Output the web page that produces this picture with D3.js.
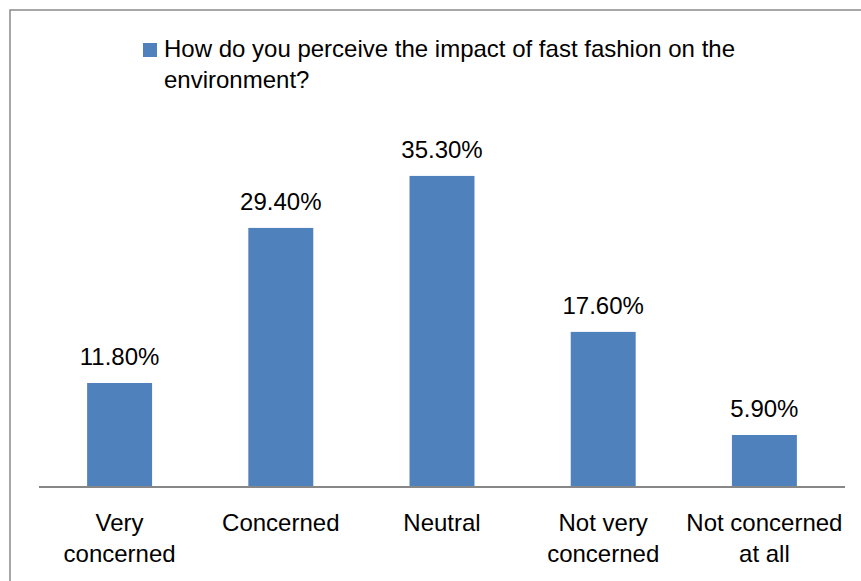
<!DOCTYPE html>
<html>
<head>
<meta charset="utf-8">
<script src="https://cdn.jsdelivr.net/npm/d3@7"></script>
<style>
  body { margin: 0; background: #fff; }
  text { font-family: "Liberation Sans", Arial, sans-serif; fill: #000; }
</style>
</head>
<body>
<div id="chart"></div>
<script>
// data
var seriesName = "How do you perceive the impact of fast fashion on the environment?";
var categories = ["Very concerned", "Concerned", "Neutral", "Not very concerned", "Not concerned at all"];
var values = [11.8, 29.4, 35.3, 17.6, 5.9];
var valueLabels = ["11.80%", "29.40%", "35.30%", "17.60%", "5.90%"];

var width = 861;
var height = 581;
var baseY = 487;
var fontSize = 24;

var svg = d3.select("#chart")
    .append("svg")
    .attr("width", width)
    .attr("height", height);

// chart border (right/bottom edges run off the picture)
svg.append("rect")
    .attr("x", 10)
    .attr("y", 10)
    .attr("width", 900)
    .attr("height", 620)
    .attr("fill", "none")
    .attr("stroke", "#8a8a8a")
    .attr("stroke-width", 1.5);

var xScale = d3.scaleBand()
    .domain(categories)
    .range([39, 845])
    .paddingInner(0.597)
    .paddingOuter(0.2985);

var yScale = d3.scaleLinear()
    .domain([0, 40])
    .range([baseY, baseY - 352.5]);

// wrap text into lines that fit maxWidth
function wrap(textSel, maxWidth, lineHeight) {
  textSel.each(function() {
    var t = d3.select(this);
    var words = t.text().split(/\s+/);
    var x = t.attr("x");
    var y = t.attr("y");
    t.text(null);
    var line = [];
    var tspan = t.append("tspan").attr("x", x).attr("y", y);
    var lineNo = 0;
    words.forEach(function(w) {
      line.push(w);
      tspan.text(line.join(" "));
      if (tspan.node().getComputedTextLength() > maxWidth && line.length > 1) {
        line.pop();
        tspan.text(line.join(" "));
        line = [w];
        lineNo++;
        tspan = t.append("tspan")
            .attr("x", x)
            .attr("y", +y + lineNo * lineHeight)
            .text(w);
      }
    });
  });
}

// bars
svg.selectAll(".bar")
    .data(values)
    .enter()
    .append("rect")
    .attr("class", "bar")
    .attr("x", function(d, i) { return xScale(categories[i]); })
    .attr("y", function(d) { return yScale(d); })
    .attr("width", xScale.bandwidth())
    .attr("height", function(d) { return baseY - yScale(d); })
    .attr("fill", "#4f81bd");

// value labels
svg.selectAll(".valLabel")
    .data(values)
    .enter()
    .append("text")
    .attr("class", "valLabel")
    .attr("x", function(d, i) { return xScale(categories[i]) + xScale.bandwidth() / 2; })
    .attr("y", function(d) { return yScale(d) - 18; })
    .attr("text-anchor", "middle")
    .attr("font-size", fontSize)
    .text(function(d, i) { return valueLabels[i]; });

// x axis line
svg.append("line")
    .attr("x1", xScale.range()[0])
    .attr("x2", xScale.range()[1])
    .attr("y1", baseY)
    .attr("y2", baseY)
    .attr("stroke", "#878787")
    .attr("stroke-width", 2);

// category labels
svg.selectAll(".catLabel")
    .data(categories)
    .enter()
    .append("text")
    .attr("class", "catLabel")
    .attr("x", function(d) { return xScale(d) + xScale.bandwidth() / 2; })
    .attr("y", 531)
    .attr("text-anchor", "middle")
    .attr("font-size", fontSize)
    .text(function(d) { return d; })
    .call(wrap, xScale.step(), 31);

// legend
var legend = svg.append("g").attr("class", "legend");
legend.append("rect")
    .attr("x", 143)
    .attr("y", 43)
    .attr("width", 14)
    .attr("height", 14)
    .attr("fill", "#4f81bd");
legend.append("text")
    .attr("x", 164)
    .attr("y", 57)
    .attr("font-size", fontSize)
    .text(seriesName)
    .call(wrap, 620, 31);
</script>
</body>
</html>
